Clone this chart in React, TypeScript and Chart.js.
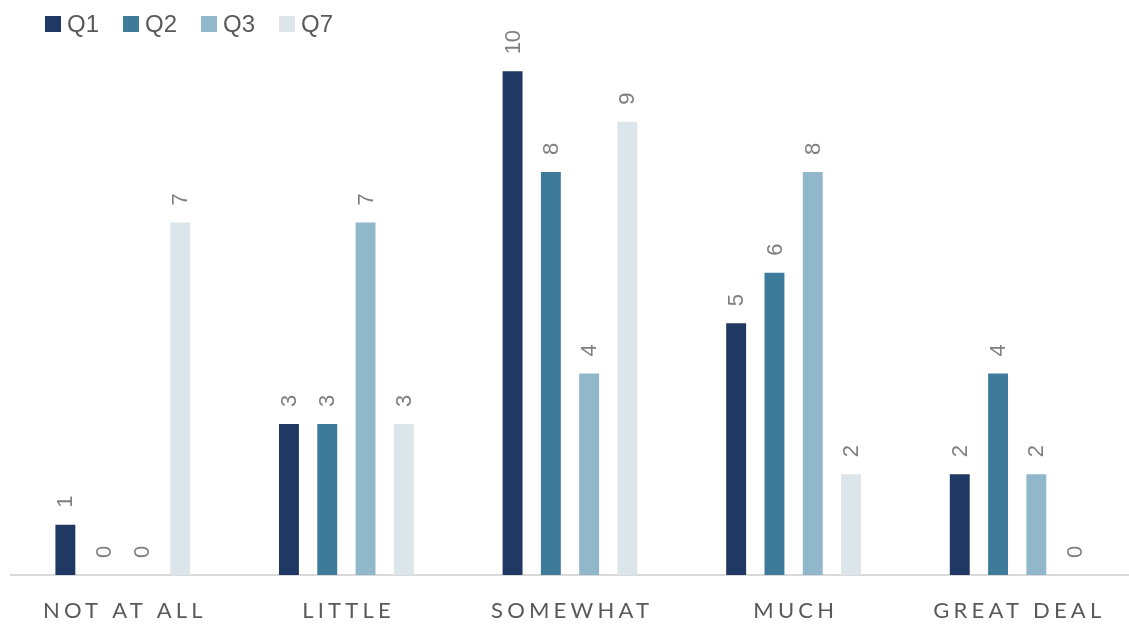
import React, { useEffect, useRef } from "react";
import { Chart, registerables } from "chart.js";

Chart.register(...registerables);

const categories = ["NOT AT ALL", "LITTLE", "SOMEWHAT", "MUCH", "GREAT DEAL"];
const seriesNames = ["Q1", "Q2", "Q3", "Q7"];
const q1Values = [1, 3, 10, 5, 2];
const q2Values = [0, 3, 8, 6, 4];
const q3Values = [0, 7, 4, 8, 2];
const q7Values = [7, 3, 9, 2, 0];
const seriesColors = ["#203864", "#3e7b9b", "#91b8ca", "#dce5e9"];

const labelPlugin = {
  id: "customLabels",
  afterDraw(chart: any) {
    const ctx = chart.ctx;
    // data labels
    ctx.save();
    ctx.fillStyle = "#7f7f7f";
    ctx.font = "22px 'Liberation Sans', Arial, sans-serif";
    ctx.textAlign = "left";
    ctx.textBaseline = "middle";
    chart.data.datasets.forEach((ds: any, di: number) => {
      const meta = chart.getDatasetMeta(di);
      meta.data.forEach((bar: any, i: number) => {
        const v = ds.data[i];
        ctx.save();
        ctx.translate(bar.x, bar.y - 17);
        ctx.rotate(-Math.PI / 2);
        ctx.fillText(String(v), 0, 1);
        ctx.restore();
      });
    });
    ctx.restore();

    // x axis labels
    const xs = chart.scales.x;
    ctx.save();
    ctx.fillStyle = "#595959";
    ctx.font = "22px Lato, 'Open Sans', sans-serif";
    (ctx as any).letterSpacing = "4.2px";
    ctx.textAlign = "center";
    ctx.textBaseline = "middle";
    categories.forEach((c, i) => {
      const x = xs.getPixelForTick(i);
      ctx.fillText(c, x + 2.1, 611);
    });
    ctx.restore();

    // legend
    ctx.save();
    ctx.font = "24px 'Liberation Sans', Arial, sans-serif";
    ctx.textBaseline = "middle";
    ctx.textAlign = "left";
    let x = 45;
    const yc = 24;
    seriesNames.forEach((n, i) => {
      ctx.fillStyle = seriesColors[i];
      ctx.fillRect(x, yc - 8, 16, 16);
      ctx.fillStyle = "#595959";
      ctx.fillText(n, x + 22, yc + 1);
      x += 22 + ctx.measureText(n).width + 24;
    });
    ctx.restore();
  },
};

export default function App() {
  const canvasRef = useRef<HTMLCanvasElement | null>(null);

  useEffect(() => {
    const canvas = canvasRef.current;
    if (!canvas) return;
    const chart = new Chart(canvas, {
      type: "bar",
      data: {
        labels: categories,
        datasets: [q1Values, q2Values, q3Values, q7Values].map((vals, i) => ({
          label: seriesNames[i],
          data: vals,
          backgroundColor: seriesColors[i],
          borderWidth: 0,
          categoryPercentage: 0.685,
          barPercentage: 0.52,
        })),
      },
      options: {
        responsive: false,
        animation: false,
        maintainAspectRatio: false,
        layout: { padding: { top: 21, left: 11, right: 0, bottom: 43 } },
        plugins: {
          legend: { display: false },
          tooltip: { enabled: false },
        },
        scales: {
          x: {
            grid: { display: false },
            border: { display: true, color: "#d9d9d9", width: 2 },
            ticks: { display: false },
          },
          y: {
            display: false,
            min: 0,
            max: 11,
          },
        },
      },
      plugins: [labelPlugin],
    });
    return () => chart.destroy();
  }, []);

  return (
    <div style={{ position: "absolute", left: 0, top: 0, width: 1129, height: 626, background: "#fff" }}>
      <canvas ref={canvasRef} width={1129} height={626} style={{ width: 1129, height: 626 }} />
    </div>
  );
}
